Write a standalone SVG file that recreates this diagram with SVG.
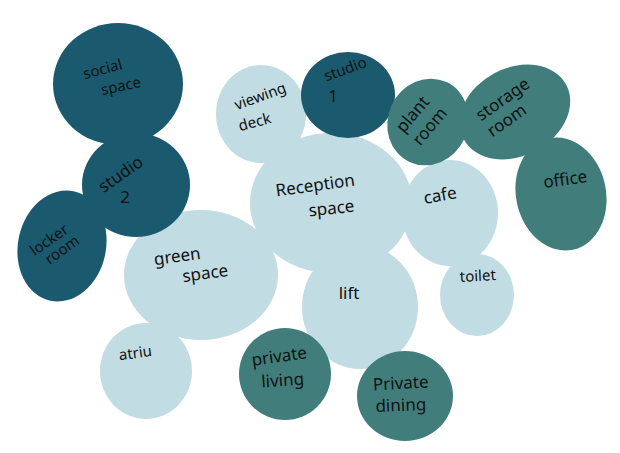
<svg xmlns="http://www.w3.org/2000/svg" width="620" height="453" viewBox="0 0 620 453">
<style>
.light{fill:#c1dce3}
.dark{fill:#1b5a6e}
.teal{fill:#417e7b}
text{font-family:"Noto Sans","DejaVu Sans",sans-serif;font-size:15px;fill:#111;text-anchor:middle}
.big{font-size:17px}
</style>
<rect width="620" height="453" fill="#ffffff"/>
<g id="viewing-deck"><ellipse class="light" cx="261" cy="114" rx="45" ry="49"/>
<text transform="translate(262,101) rotate(-20)">viewing</text><text transform="translate(256,127) rotate(-15)">deck</text></g>
<g id="reception-space"><ellipse class="light" cx="331" cy="203" rx="81" ry="70"/>
<text class="big" transform="translate(316,191) rotate(-8)">Reception</text><text class="big" transform="translate(332,214) rotate(-6)">space</text></g>
<g id="cafe"><ellipse class="light" cx="450" cy="213" rx="48" ry="53"/>
<text class="big" transform="translate(441,201) rotate(-10)">cafe</text></g>
<g id="toilet"><ellipse class="light" cx="477" cy="295" rx="37" ry="41"/>
<text transform="translate(478,281) rotate(-3)">toilet</text></g>
<g id="lift"><ellipse class="light" cx="360" cy="307" rx="58" ry="62"/>
<text class="big" transform="translate(349,299)">lift</text></g>
<g id="green-space"><ellipse class="light" cx="201" cy="275" rx="77" ry="65"/>
<text class="big" transform="translate(178,262) rotate(-8)">green</text><text class="big" transform="translate(206,279) rotate(-8)">space</text></g>
<g id="atrium"><ellipse class="light" cx="146" cy="371" rx="46" ry="48"/>
<text transform="translate(136,358) rotate(-8)">atriu</text></g>
<g id="social-space"><ellipse class="dark" cx="118" cy="84" rx="65" ry="61"/>
<text transform="translate(104,74) rotate(-15)">social</text><text transform="translate(122,91) rotate(-12)">space</text></g>
<g id="studio-2"><ellipse class="dark" cx="136" cy="185" rx="54" ry="52"/>
<text class="big" transform="translate(124,179) rotate(-35)">studio</text><text class="big" transform="translate(125,203)">2</text></g>
<g id="locker-room"><ellipse class="dark" cx="62" cy="246" rx="44" ry="56" transform="rotate(12 62 246)"/>
<text transform="translate(52,244) rotate(-35)">locker</text><text transform="translate(65,254) rotate(-35)">room</text></g>
<g id="studio-1"><ellipse class="dark" cx="348" cy="95" rx="47" ry="43"/>
<text transform="translate(347,74) rotate(-20)">studio</text><text class="big" transform="translate(333,102)">1</text></g>
<g id="plant-room"><ellipse class="teal" cx="428" cy="122" rx="40" ry="44" transform="rotate(25 428 122)"/>
<text class="big" transform="translate(417,118) rotate(-50)">plant</text><text class="big" transform="translate(434,130) rotate(-50)">room</text></g>
<g id="storage-room"><ellipse class="teal" cx="515" cy="112" rx="58" ry="44" transform="rotate(-28 515 112)"/>
<text class="big" transform="translate(506,104) rotate(-35)">storage</text><text class="big" transform="translate(510,125) rotate(-35)">room</text></g>
<g id="office"><ellipse class="teal" cx="561" cy="194" rx="45" ry="57" transform="rotate(-12 561 194)"/>
<text class="big" transform="translate(566,185) rotate(-8)">office</text></g>
<g id="private-living"><ellipse class="teal" cx="285" cy="374" rx="46" ry="46"/>
<text class="big" transform="translate(280,362) rotate(-8)">private</text><text class="big" transform="translate(283,386) rotate(-4)">living</text></g>
<g id="private-dining"><ellipse class="teal" cx="405" cy="396" rx="48" ry="45"/>
<text class="big" transform="translate(401,389) rotate(-3)">Private</text><text class="big" transform="translate(401,411) rotate(-2)">dining</text></g>
<g id="connectors"/>
</svg>
